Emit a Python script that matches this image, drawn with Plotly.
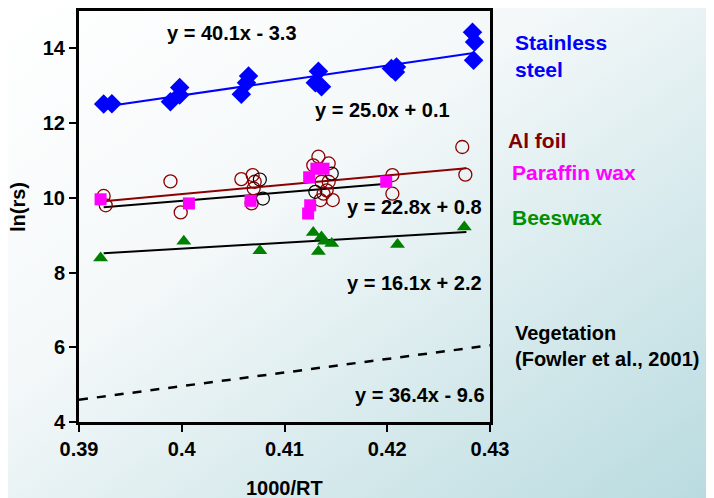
import base64
import plotly.graph_objects as go

# ---------------- data ----------------
steel_x = [0.3924, 0.3932, 0.3989, 0.3998, 0.3998, 0.4058, 0.4063, 0.4065,
           0.4130, 0.4133, 0.4136, 0.4204, 0.4208, 0.4209, 0.4283, 0.4285, 0.4284]
steel_y = [12.51, 12.52, 12.57, 12.95, 12.75, 12.77, 13.08, 13.26,
           13.08, 13.39, 12.97, 13.46, 13.37, 13.50, 14.43, 14.17, 13.68]

al_x = [0.3924, 0.3926, 0.3989, 0.3999, 0.4058, 0.4069, 0.4071, 0.4070, 0.4068,
        0.4133, 0.4128, 0.4143, 0.4136, 0.4143, 0.4147, 0.4138, 0.4135, 0.4141,
        0.4205, 0.4205, 0.4273, 0.4276]
al_y = [10.05, 9.80, 10.44, 9.61, 10.50, 10.61, 10.43, 10.25, 9.85,
        11.10, 10.87, 10.92, 10.43, 10.43, 9.94, 10.11, 9.94, 10.20,
        10.61, 10.11, 11.36, 10.62]

other_x = [0.4076, 0.4079, 0.4130, 0.4146]
other_y = [10.49, 9.98, 10.16, 10.65]

paraffin_x = [0.3921, 0.4007, 0.4067, 0.4124, 0.4131, 0.4138, 0.4125, 0.4123, 0.4199]
paraffin_y = [9.96, 9.85, 9.92, 10.55, 10.78, 10.78, 9.80, 9.58, 10.43]

bees_x = [0.3921, 0.4002, 0.4076, 0.4128, 0.4136, 0.4139, 0.4146, 0.4133, 0.4210, 0.4275]
bees_y = [8.39, 8.84, 8.58, 9.07, 8.95, 8.84, 8.78, 8.56, 8.75, 9.22]

# fitted lines: slope, intercept, x-extent
steel_fit = (40.1, -3.3, [0.3924, 0.4284])
al_fit = (25.0, 0.1, [0.3924, 0.4277])
paraffin_fit = (22.8, 0.8, [0.3924, 0.4197])
bees_fit = (16.1, 2.2, [0.3924, 0.4277])
veg_fit = (36.4, -9.6, [0.39, 0.43])

x_ticks = [0.39, 0.40, 0.41, 0.42, 0.43]
x_tick_text = ["0.39", "0.4", "0.41", "0.42", "0.43"]
y_ticks = [4, 6, 8, 10, 12, 14]

FONT = "Arial, 'Liberation Sans', sans-serif"

# plot area in the photographed page (page has an 8px body margin)
PL, PT, PW, PH = 79, 11, 411, 411
OFF = 8


def fit_line(fit):
    m, b, xs = fit
    return xs, [m * x + b for x in xs]


fig = go.Figure()

# background gradient
svg = ('<svg xmlns="http://www.w3.org/2000/svg" width="760" height="540" preserveAspectRatio="none">'
       '<defs><linearGradient id="g" x1="0" y1="0" x2="1" y2="1">'
       '<stop offset="0" stop-color="#ffffff"/>'
       '<stop offset="0.35" stop-color="#f4f8f9"/>'
       '<stop offset="1" stop-color="#b0d7dc"/>'
       '</linearGradient></defs>'
       '<rect width="760" height="540" fill="url(#g)"/></svg>')
src = "data:image/svg+xml;base64," + base64.b64encode(svg.encode()).decode()
fig.add_layout_image(dict(source=src, xref="paper", yref="paper",
                          x=-(PL - OFF) / PW, y=1 + (PT - OFF) / PH,
                          sizex=760 / PW, sizey=540 / PH, sizing="stretch",
                          xanchor="left", yanchor="top", layer="below"))

# lines
for fit, color, dash, w in [(steel_fit, "#0000ff", "solid", 2),
                            (al_fit, "#8b0000", "solid", 2),
                            (paraffin_fit, "#000000", "solid", 2),
                            (bees_fit, "#000000", "solid", 2),
                            (veg_fit, "#000000", "dash", 2.5)]:
    lx, ly = fit_line(fit)
    fig.add_trace(go.Scatter(x=lx, y=ly, mode="lines",
                             line=dict(color=color, width=w, dash=dash), hoverinfo="skip"))

fig.add_trace(go.Scatter(x=al_x, y=al_y, mode="markers",
                         marker=dict(symbol="circle-open", size=13, color="#8b0000",
                                     line=dict(width=1.3, color="#8b0000"))))
fig.add_trace(go.Scatter(x=other_x, y=other_y, mode="markers",
                         marker=dict(symbol="circle-open", size=13, color="#000000",
                                     line=dict(width=1.2, color="#000000"))))
fig.add_trace(go.Scatter(x=paraffin_x, y=paraffin_y, mode="markers",
                         marker=dict(symbol="square", size=12, color="#ff00ff")))
fig.add_trace(go.Scatter(x=bees_x, y=bees_y, mode="markers",
                         marker=dict(symbol="triangle-up", size=13, color="#008000")))
fig.add_trace(go.Scatter(x=steel_x, y=steel_y, mode="markers",
                         marker=dict(symbol="diamond", size=15, color="#0000ff")))


def ann_px(text, px, py, color="#000000", size=20, xanchor="left", angle=0):
    fig.add_annotation(x=(px - PL) / PW, y=(PT + PH - py) / PH, xref="paper", yref="paper",
                       text=text, showarrow=False, xanchor=xanchor, yanchor="middle",
                       align="left", textangle=angle,
                       font=dict(family=FONT, size=size, color=color, weight="bold"))


ann_px("y = 40.1x - 3.3", 165, 33)
ann_px("y = 25.0x + 0.1", 452, 110, xanchor="right")
ann_px("y = 22.8x + 0.8", 484, 207, xanchor="right")
ann_px("y = 16.1x + 2.2", 484, 283, xanchor="right")
ann_px("y = 36.4x - 9.6", 487, 395, xanchor="right")

ann_px("Stainless<br>steel", 513, 56, "#0000ff", 21)
ann_px("Al foil", 506, 141, "#800000", 21)
ann_px("Paraffin wax", 510, 173, "#ff00ff", 21)
ann_px("Beeswax", 510, 218, "#009000", 21)
ann_px("Vegetation<br>(Fowler et al., 2001)", 513, 346, "#000000", 20)

# axis titles
ann_px("1000/RT", 284, 488, xanchor="center")
ann_px("ln(rs)", 18, 207, xanchor="center", angle=-90)

fig.update_layout(
    width=714, height=498,
    margin=dict(l=PL - OFF, r=714 - (PL + PW - OFF), t=PT - OFF, b=498 - (PT + PH - OFF),
                autoexpand=False),
    paper_bgcolor="#c2e0e3", plot_bgcolor="rgba(0,0,0,0)",
    showlegend=False,
    font=dict(family=FONT, size=20, color="#000000"),
)
fig.update_xaxes(range=[0.39, 0.43], tickvals=x_ticks, ticktext=x_tick_text,
                 showgrid=False, zeroline=False, showline=True, linecolor="#000000",
                 linewidth=3, mirror=True, ticks="outside", ticklen=7, tickwidth=2,
                 tickcolor="#000000", automargin=False,
                 tickfont=dict(family=FONT, size=20, weight="bold"))
fig.update_yaxes(range=[4, 15], tickvals=y_ticks,
                 showgrid=False, zeroline=False, showline=True, linecolor="#000000",
                 linewidth=3, mirror=True, ticks="outside", ticklen=7, tickwidth=2,
                 tickcolor="#000000", automargin=False,
                 tickfont=dict(family=FONT, size=20, weight="bold"))

fig.write_html("out.html")
